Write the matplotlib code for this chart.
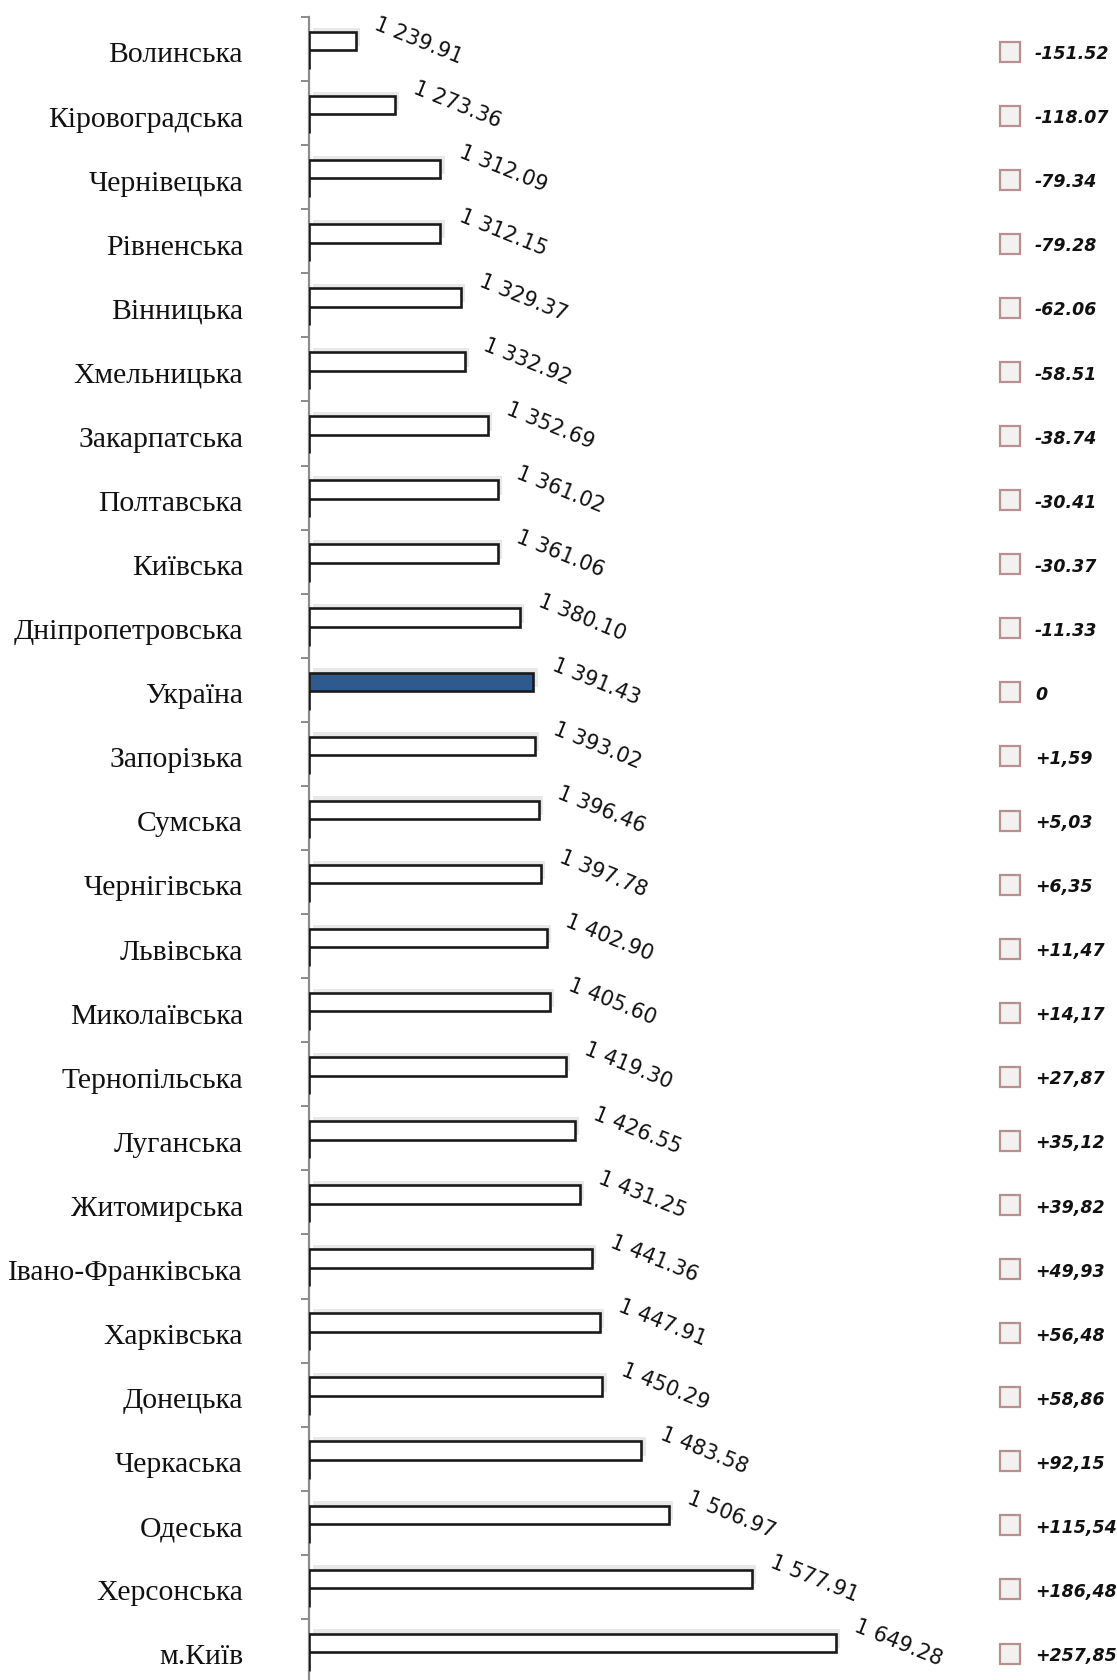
import matplotlib
matplotlib.use("Agg")
import matplotlib.pyplot as plt
from matplotlib.transforms import blended_transform_factory
import matplotlib.patheffects as pe

regions = ["Волинська", "Кіровоградська", "Чернівецька", "Рівненська", "Вінницька",
           "Хмельницька", "Закарпатська", "Полтавська", "Київська", "Дніпропетровська",
           "Україна", "Запорізька", "Сумська", "Чернігівська", "Львівська",
           "Миколаївська", "Тернопільська", "Луганська", "Житомирська",
           "Івано-Франківська", "Харківська", "Донецька", "Черкаська", "Одеська",
           "Херсонська", "м.Київ"]
values = [1239.91, 1273.36, 1312.09, 1312.15, 1329.37, 1332.92, 1352.69, 1361.02,
          1361.06, 1380.10, 1391.43, 1393.02, 1396.46, 1397.78, 1402.90, 1405.60,
          1419.30, 1426.55, 1431.25, 1441.36, 1447.91, 1450.29, 1483.58, 1506.97,
          1577.91, 1649.28]
deviations = ["-151.52", "-118.07", "-79.34", "-79.28", "-62.06", "-58.51", "-38.74",
              "-30.41", "-30.37", "-11.33", "0", "+1,59", "+5,03", "+6,35", "+11,47",
              "+14,17", "+27,87", "+35,12", "+39,82", "+49,93", "+56,48", "+58,86",
              "+92,15", "+115,54", "+186,48", "+257,85"]
highlight = "Україна"
x_start = 1200
x_end = 1700

W, H = 1117, 1680
fig = plt.figure(figsize=(W / 100, H / 100), dpi=100)
ax = fig.add_axes([309 / W, -3 / H, 586 / W, 1666 / H])

n = len(regions)
ys = list(range(n))
bar_h = 0.29
shift = 0.02
colors = ["#2f5a8f" if r == highlight else "white" for r in regions]
widths = [v - x_start for v in values]
bars = ax.barh([y + shift - bar_h / 2 for y in ys], widths, left=x_start, height=bar_h,
               color=colors, edgecolor="#1a1a1a", linewidth=1.9, zorder=3)
for b in bars:
    b.set_path_effects([pe.SimplePatchShadow(offset=(3, 3), shadow_rgbFace="#000000", alpha=0.09),
                        pe.Normal()])
# second (empty) series: zero-width bars showing only their edge along the axis
ax.barh([y + shift + bar_h / 2 for y in ys], [0] * n, left=x_start, height=bar_h,
        color="white", edgecolor="#1a1a1a", linewidth=1.9, zorder=3)

ax.set_xlim(x_start, x_end)
ax.set_ylim(n - 0.5, -0.5)

for s in ["top", "right", "bottom"]:
    ax.spines[s].set_visible(False)
ax.spines["left"].set_color("#8c8c8c")
ax.spines["left"].set_linewidth(1.6)
ax.set_xticks([])
ax.set_yticks([y - 0.5 for y in ys])
ax.set_yticklabels([])
ax.tick_params(axis="y", length=6, width=1.4, color="#8c8c8c", direction="out")

# category labels
lab_tr = blended_transform_factory(fig.transFigure, ax.transData)
for y, r in zip(ys, regions):
    ax.text(243 / W, y + 0.1, r, transform=lab_tr, ha="right", va="center",
            fontsize=21.3, family=["Liberation Serif", "DejaVu Serif"], color="#111111")

# value labels
for y, v in zip(ys, values):
    txt = f"{v:,.2f}".replace(",", " ")
    ax.annotate(txt, xy=(v, y + shift - bar_h / 2), xytext=(45, 0), textcoords="offset points",
                rotation=-22, rotation_mode="anchor", ha="center", va="center",
                fontsize=15, family="DejaVu Sans", color="#111111")

# right-hand legend column
ax.plot([1010 / W] * n, [y + 0.04 for y in ys], linestyle="none", marker="s", markersize=14.5,
        markerfacecolor="#f3f0f0", markeredgecolor="#b89090", markeredgewidth=1.6,
        transform=lab_tr, clip_on=False)
for y, d in zip(ys, deviations):
    ax.text(1035 / W, y + 0.08, d, transform=lab_tr, ha="left", va="center",
            fontsize=12.5, fontweight="bold", fontstyle="italic",
            family="DejaVu Sans", color="#111111")

fig.savefig("out.png", dpi=100)
